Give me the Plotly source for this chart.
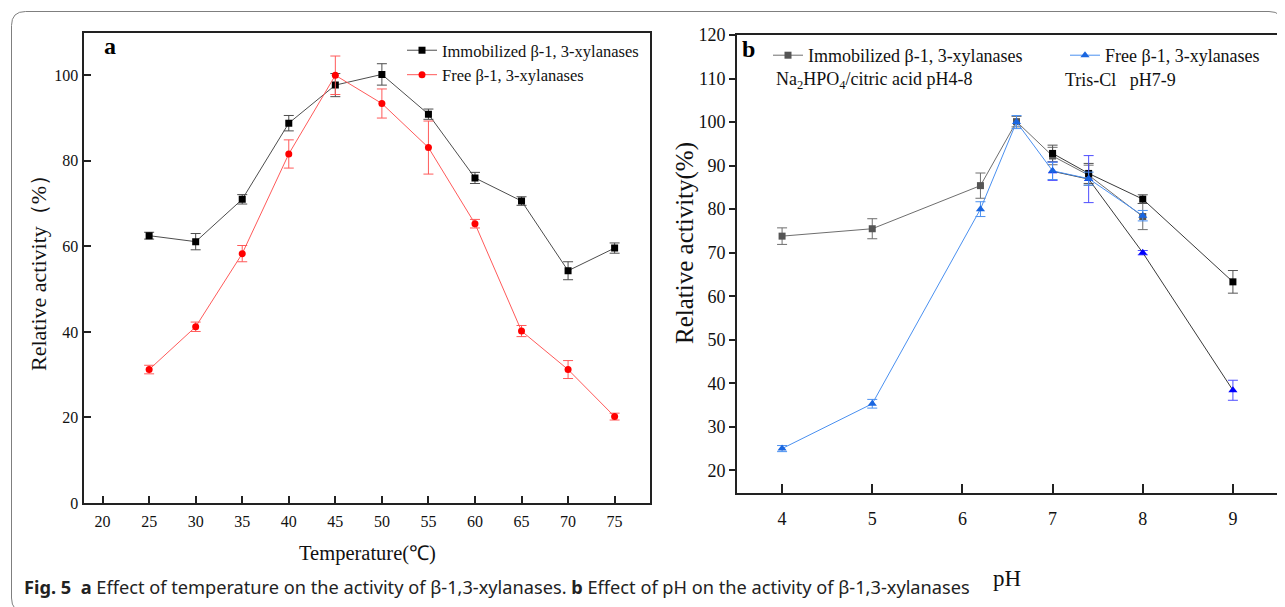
import plotly.graph_objects as go

# The page body has an 8px default margin, so the figure is drawn 8px in from the
# top-left corner of the window; all reference pixel positions are shifted by it.
OFF = 8
W, H = 1285 - OFF, 607 - OFF

# ---------------- Panel a data (temperature) ----------------
temp = [25, 30, 35, 40, 45, 50, 55, 60, 65, 70, 75]
immob_t = [62.5, 61.1, 71.0, 88.8, 97.7, 100.2, 90.9, 76.0, 70.6, 54.3, 59.6]
immob_t_err = [0.8, 1.9, 1.1, 1.8, 2.7, 2.5, 1.2, 1.3, 1.0, 2.1, 1.2]
free_t = [31.2, 41.2, 58.3, 81.6, 100.0, 93.4, 83.1, 65.3, 40.2, 31.2, 20.2]
free_t_err = [1.0, 1.1, 1.9, 3.3, 4.5, 3.4, 6.2, 1.0, 1.3, 2.1, 0.8]

# ---------------- Panel b data (pH) ----------------
ph_na = [4, 5, 6.2, 6.6, 7, 7.4, 8]
immob_na = [73.8, 75.5, 85.4, 100.1, 92.2, 87.8, 78.3]
immob_na_err = [1.9, 2.3, 2.9, 1.2, 2.0, 2.3, 3.0]
free_na = [25.0, 35.3, 80.0, 100.0, 88.8, 87.0, 78.5]
free_na_err = [0.7, 1.0, 1.7, 1.5, 2.0, 1.5, 1.2]

ph_tris = [7, 7.4, 8, 9]
immob_tris = [92.8, 88.2, 82.3, 63.3]
immob_tris_err = [1.9, 2.3, 1.0, 2.6]
free_tris = [88.7, 86.9, 70.0, 38.4]
free_tris_err = [2.1, 5.4, 0.5, 2.3]

temp_ticks = [20, 25, 30, 35, 40, 45, 50, 55, 60, 65, 70, 75]
act_ticks_a = [0, 20, 40, 60, 80, 100]
ph_ticks = [4, 5, 6, 7, 8, 9]
act_ticks_b = [20, 30, 40, 50, 60, 70, 80, 90, 100, 110, 120]

# ---------------- geometry helpers (window pixels -> paper) ----------------
def px(x):
    return (x - OFF) / W

def py(y):
    return 1 - (y - OFF) / H

SERIF = "Liberation Serif, Times New Roman, serif"

fig = go.Figure()

# Panel a traces
fig.add_trace(go.Scatter(
    x=temp, y=immob_t, mode="lines+markers", name="Immobilized β-1, 3-xylanases",
    line=dict(color="#4d4d4d", width=1),
    marker=dict(symbol="square", size=7, color="#000000"),
    error_y=dict(type="data", array=immob_t_err, color="#4d4d4d", thickness=1, width=5),
    xaxis="x", yaxis="y", legend="legend"))
fig.add_trace(go.Scatter(
    x=temp, y=free_t, mode="lines+markers", name="Free β-1, 3-xylanases",
    line=dict(color="#ff5a5a", width=1),
    marker=dict(symbol="circle", size=7, color="#ff0000"),
    error_y=dict(type="data", array=free_t_err, color="#ff5a5a", thickness=1, width=5),
    xaxis="x", yaxis="y", legend="legend"))

# Panel b traces
fig.add_trace(go.Scatter(
    x=ph_na, y=immob_na, mode="lines+markers", name="Immobilized β-1, 3-xylanases",
    line=dict(color="#6e6e6e", width=1),
    marker=dict(symbol="square", size=7, color="#555555"),
    error_y=dict(type="data", array=immob_na_err, color="#6e6e6e", thickness=1, width=5),
    xaxis="x2", yaxis="y2", legend="legend2"))
fig.add_trace(go.Scatter(
    x=ph_tris, y=immob_tris, mode="lines+markers", name="Immobilized Tris",
    line=dict(color="#3a3a3a", width=1),
    marker=dict(symbol="square", size=7, color="#000000"),
    error_y=dict(type="data", array=immob_tris_err, color="#555555", thickness=1, width=5),
    xaxis="x2", yaxis="y2", showlegend=False))
fig.add_trace(go.Scatter(
    x=ph_tris, y=free_tris, mode="lines+markers", name="Free Tris",
    line=dict(color="#3a3a3a", width=1),
    marker=dict(symbol="triangle-up", size=8, color="#0000ff"),
    error_y=dict(type="data", array=free_tris_err, color="#4d4dff", thickness=1, width=5),
    xaxis="x2", yaxis="y2", showlegend=False))
fig.add_trace(go.Scatter(
    x=ph_na, y=free_na, mode="lines+markers", name="Free β-1, 3-xylanases",
    line=dict(color="#4a90f0", width=1),
    marker=dict(symbol="triangle-up", size=8, color="#1a66e0"),
    error_y=dict(type="data", array=free_na_err, color="#4a90f0", thickness=1, width=5),
    xaxis="x2", yaxis="y2", legend="legend3"))

axis_common = dict(showline=True, linecolor="#222222", linewidth=2, mirror=True,
                   showgrid=False, zeroline=False, ticks="inside", tickcolor="#222222",
                   tickwidth=2, ticklen=7, automargin=False,
                   tickfont=dict(family=SERIF, size=16, color="#111111"))

fig.update_layout(
    template="none",
    width=W, height=H, margin=dict(l=0, r=0, t=0, b=0, pad=0), autosize=False,
    paper_bgcolor="white", plot_bgcolor="white",
    xaxis=dict(axis_common, domain=[px(83.5), px(650)], range=[17.95, 78.8],
               tickvals=temp_ticks, anchor="y", ticklabelstandoff=3),
    yaxis=dict(axis_common, domain=[py(503), py(32.5)], range=[0, 110],
               tickvals=act_ticks_a, anchor="x"),
    xaxis2=dict(axis_common, domain=[px(737), px(1278)], range=[3.5, 9.5],
                tickvals=ph_ticks, ticklen=9, anchor="y2", ticklabelstandoff=8,
                tickfont=dict(family=SERIF, size=18, color="#111111")),
    yaxis2=dict(axis_common, domain=[py(493), py(35)], range=[14.8, 120],
                tickvals=act_ticks_b, ticks="outside", ticklen=6, anchor="x2",
                tickfont=dict(family=SERIF, size=18, color="#111111")),
    legend=dict(x=px(402), y=py(33), xanchor="left", yanchor="top",
                bgcolor="rgba(0,0,0,0)", font=dict(family=SERIF, size=16.5, color="#111111"),
                tracegroupgap=0, itemwidth=30, borderwidth=0),
    legend2=dict(x=px(768), y=py(37), xanchor="left", yanchor="top",
                 bgcolor="rgba(0,0,0,0)", font=dict(family=SERIF, size=18, color="#111111"),
                 itemwidth=30, borderwidth=0),
    legend3=dict(x=px(1065), y=py(37), xanchor="left", yanchor="top",
                 bgcolor="rgba(0,0,0,0)", font=dict(family=SERIF, size=18, color="#111111"),
                 itemwidth=30, borderwidth=0),
)

annotations = [
    dict(text="<b>a</b>", x=px(110), y=py(46), font=dict(family=SERIF, size=24, color="#000")),
    dict(text="<b>b</b>", x=px(748), y=py(49), font=dict(family=SERIF, size=24, color="#000")),
    dict(text="Na<sub>2</sub>HPO<sub>4</sub>/citric acid pH4-8", x=px(774), y=py(81),
         xanchor="left", font=dict(family=SERIF, size=18, color="#111")),
    dict(text="Tris-Cl   pH7-9", x=px(1063), y=py(80), xanchor="left",
         font=dict(family=SERIF, size=18, color="#111")),
    dict(text="Relative activity（%）", x=px(38), y=py(268), textangle=-90,
         font=dict(family=SERIF, size=22, color="#111")),
    dict(text="Temperature(℃)", x=px(367), y=py(553),
         font=dict(family=SERIF, size=20.5, color="#111")),
    dict(text="Relative activity(%)", x=px(685), y=py(243), textangle=-90,
         font=dict(family=SERIF, size=25, color="#111")),
    dict(text="pH", x=px(1007), y=py(578),
         font=dict(family=SERIF, size=23, color="#111")),
    dict(text="<b>Fig. 5</b>  <b>a</b> Effect of temperature on the activity of β-1,3-xylanases. "
              "<b>b</b> Effect of pH on the activity of β-1,3-xylanases",
         x=px(22), y=py(587), xanchor="left",
         font=dict(family="Noto Sans, sans-serif", size=18.2, color="#222")),
]
for a in annotations:
    a.setdefault("xref", "paper")
    a.setdefault("yref", "paper")
    a.setdefault("showarrow", False)
    a.setdefault("xanchor", "center")
    a.setdefault("yanchor", "middle")
fig.update_layout(annotations=annotations)

# outer rounded border of the figure box
L, T, R, B, r = 11.5, 11.5, 1283, 612, 14
path = (f"M {px(L)},{py(B - r)} L {px(L)},{py(T + r)} Q {px(L)},{py(T)} {px(L + r)},{py(T)} "
        f"L {px(R - r)},{py(T)} Q {px(R)},{py(T)} {px(R)},{py(T + r)} "
        f"L {px(R)},{py(B - r)} Q {px(R)},{py(B)} {px(R - r)},{py(B)} "
        f"L {px(L + r)},{py(B)} Q {px(L)},{py(B)} {px(L)},{py(B - r)} Z")
fig.add_shape(type="path", path=path, xref="paper", yref="paper",
              line=dict(color="#7f7f7f", width=1))

fig.write_html("out.html")
